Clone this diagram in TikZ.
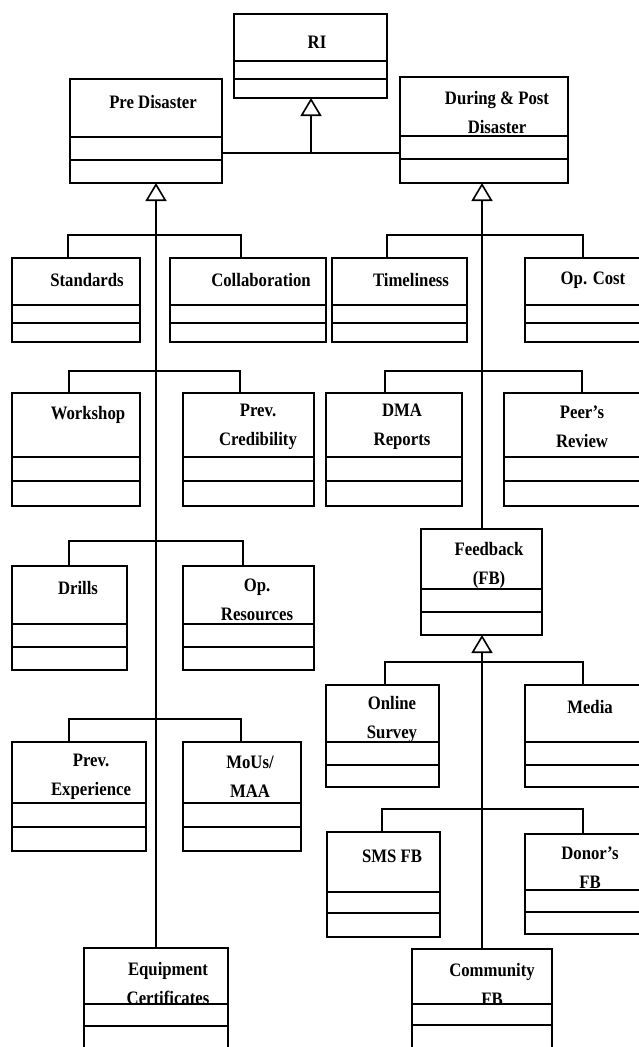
\documentclass[tikz,border=0pt]{standalone}
\usepackage{fontspec}
\setmainfont{Liberation Serif}[FakeStretch=0.88]
\usetikzlibrary{arrows.meta,calc,positioning}

\begin{document}
\begin{tikzpicture}[x=1pt,y=-1pt,
        classbox/.style={draw, line width=1.6pt, inner sep=0pt, outer sep=0pt, anchor=north west},
        classname/.style={font=\fontsize{19}{29}\selectfont\bfseries, align=center, inner sep=0pt},
        line/.style={line width=1.6pt},
        gen/.style={line width=1.6pt, -{Triangle[open, length=18pt, width=21pt]}}]
    \useasboundingbox (0,0) rectangle (638,1047);

    % classes: name/left/top/right/bottom/first rule/second rule
    \foreach \n/\l/\t/\r/\b/\p/\q in {
        RI/234/14/387/98/61/79, PreDis/70/79/222/183/137/160, During/400/77/568/183/136/159,
        Standards/12/258/140/342/305/323, Collab/170/258/326/342/305/323,
        Timeliness/332/258/467/342/305/323, OpCost/525/258/640/342/305/323,
        Workshop/12/393/140/506/457/481, PrevCred/183/393/314/506/457/481,
        DMA/326/393/462/506/457/481, Peers/504/393/640/506/457/481,
        Drills/12/566/127/670/624/647, OpRes/183/566/314/670/624/647,
        Feedback/421/529/542/635/589/612,
        Online/326/685/439/787/742/765, Media/525/685/640/787/742/765,
        PrevExp/12/742/146/851/803/827, MoUs/183/742/301/851/803/827,
        SMS/327/832/440/937/892/913, Donor/525/834/640/934/890/912,
        Equip/84/948/228/1050/1004/1026, Community/412/949/552/1050/1004/1025}
    {
        \node[classbox, minimum width={(\r-\l)*1pt}, minimum height={(\b-\t)*1pt}] (\n) at (\l,\t) {};
        \draw[line] (\l,\p) -- (\r,\p) (\l,\q) -- (\r,\q);
    }

    % class names
    \foreach \n/\x/\y/\txt in {
        RI/317/42/RI, PreDis/153/102/Pre Disaster, During/497/112/{During \& Post\\Disaster},
        Standards/87/280/Standards, Collab/261/280/Collaboration,
        Timeliness/411/280/Timeliness, OpCost/593/280/Op. Cost,
        Workshop/88/415/Workshop, PrevCred/258/427/{Prev.\\Credibility},
        DMA/402/427/{DMA\\Reports}, Peers/582/427/{Peer’s\\Review},
        Drills/78/588/Drills, OpRes/257/600/{Op.\\Resources},
        Feedback/489/565/{Feedback\\(FB)},
        Online/392/719/{Online\\Survey}, Media/590/707/Media,
        PrevExp/91/777/{Prev.\\Experience}, MoUs/250/777/{MoUs/\\MAA},
        SMS/392/856/SMS FB, Donor/590/868/{Donor’s\\FB},
        Equip/168/983/{Equipment\\Certificates}, Community/492/984/{Community\\FB}}
        \node[classname] (\n-name) at (\x,\y) {\txt};

    % generalisation to RI
    \coordinate (join) at (311,153);
    \draw[line] (PreDis.east |- join) -- (During.west |- join);
    \draw[gen] (join) -- (join |- RI.south);

    % trunks
    \draw[gen] (Equip.north) -- (Equip.north |- PreDis.south);
    \draw[gen] (Community.north |- Feedback.north) -- (Community.north |- During.south);
    \draw[gen] (Community.north) -- (Community.north |- Feedback.south);

    % buses between sibling pairs
    \foreach \a/\xa/\b/\xb/\y in {
        Standards/68/Collab/241/235, Workshop/69/PrevCred/240/371,
        Drills/69/OpRes/243/541, PrevExp/69/MoUs/241/719,
        Timeliness/387/OpCost/583/235, DMA/385/Peers/582/371,
        Online/385/Media/583/662, SMS/382/Donor/583/809}
        \draw[line] (\xa,0 |- \a.north) -- (\xa,\y) -| (\xb,0 |- \b.north);
\end{tikzpicture}
\end{document}
